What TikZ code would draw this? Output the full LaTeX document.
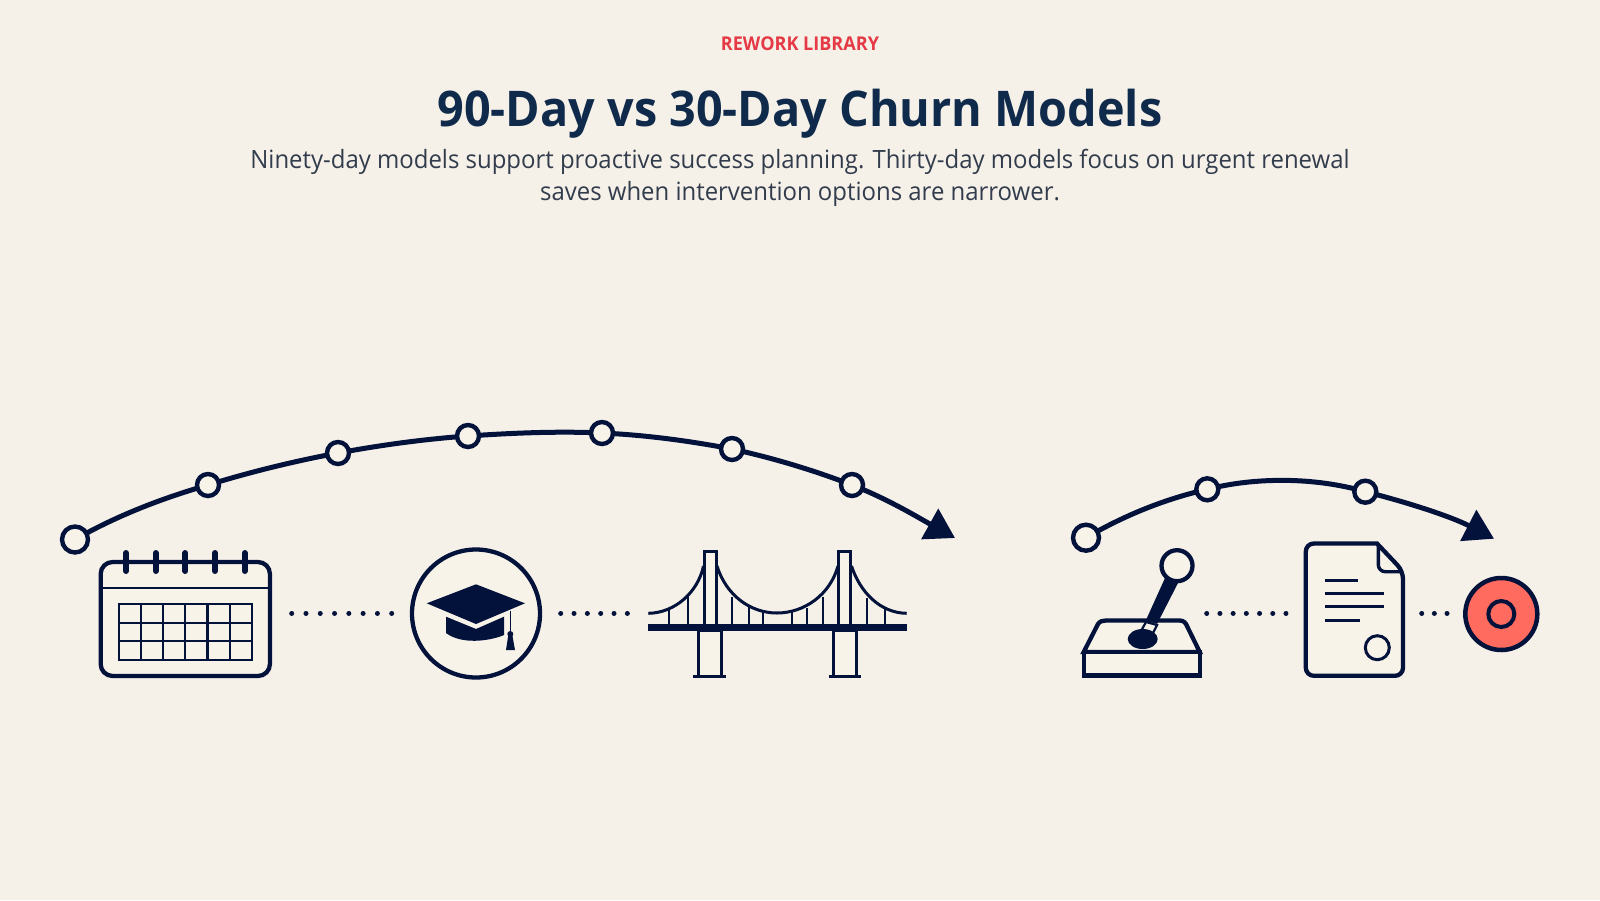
\documentclass[tikz,border=0pt]{standalone}
\usepackage{fontspec}
\setmainfont{Open Sans}
\usetikzlibrary{arrows.meta,backgrounds}
\definecolor{paper}{HTML}{F5F1E9}
\definecolor{cream}{HTML}{F8F3E9}
\definecolor{ink}{HTML}{03123A}
\definecolor{titleink}{HTML}{0F2A4A}
\definecolor{bodyink}{HTML}{323C4C}
\definecolor{kicker}{HTML}{E63946}
\definecolor{coral}{HTML}{FF6B5E}
\tikzset{
  x=1pt,y=-1pt,
  outline/.style={draw=ink,line width=4.3pt,fill=cream},
  waypoint/.style={circle,draw=ink,line width=4.4pt,fill=cream,minimum size=22pt,inner sep=0pt},
  startpoint/.style={waypoint,minimum size=26pt},
  route/.style={draw=ink,line width=5pt,-{Triangle[length=29pt,width=34pt,fill=ink]}},
  dotrow/.style={draw=ink,line width=5pt,line cap=round,dash pattern=on 0.01pt off #1},
  thin/.style={draw=ink,line width=2.2pt},
  headline/.style={transform shape,xscale=.95,align=center,text=bodyink}
}
\begin{document}
\begin{tikzpicture}
\useasboundingbox (0,0) rectangle (1600,900);
\begin{pgfonlayer}{background}
\fill[paper] (0,0) rectangle (1600,900);
\end{pgfonlayer}

% heading
\node[text=kicker,font=\fontsize{19}{22}\selectfont\bfseries,transform shape,xscale=.95] (kick) at (800,44) {REWORK LIBRARY};
\node[text=titleink,font=\fontsize{49.2}{56}\selectfont\bfseries,transform shape,xscale=.95] (title) at (800,113.5) {90-Day vs 30-Day Churn Models};
\node[headline,font=\fontsize{25.2}{32}\selectfont] (sub) at (800,177.5) {Ninety-day models support proactive success planning. Thirty-day models focus on urgent renewal\\saves when intervention options are narrower.};

% long route
\node[startpoint] (a0) at (75,539.5) {};
\node[waypoint] (a1) at (208,485) {};
\node[waypoint] (a2) at (338,453) {};
\node[waypoint] (a3) at (468,436) {};
\node[waypoint] (a4) at (602,433) {};
\node[waypoint] (a5) at (732,449) {};
\node[waypoint] (a6) at (852,485) {};
\coordinate (a7) at (955,538);
\begin{pgfonlayer}{background}
\draw[route] (a0.center) .. controls (118,515) and (163,498) .. (a1.center)
  .. controls (250,472) and (295,461) .. (a2.center)
  .. controls (381,445) and (425,439) .. (a3.center)
  .. controls (512,433) and (558,431) .. (a4.center)
  .. controls (646,435) and (690,441) .. (a5.center)
  .. controls (773,458) and (813,470) .. (a6.center)
  .. controls (888,499) and (920,518.5) .. (a7);
\end{pgfonlayer}

% short route
\node[startpoint] (b0) at (1086,537.7) {};
\node[waypoint] (b1) at (1207.3,489.3) {};
\node[waypoint] (b2) at (1365.3,491.7) {};
\coordinate (b3) at (1494,538.7);
\begin{pgfonlayer}{background}
\draw[route] (b0.center) .. controls (1125,515) and (1165,499) .. (b1.center)
  .. controls (1255,477) and (1315,477) .. (b2.center)
  .. controls (1410,503) and (1452,517) .. (b3);
\end{pgfonlayer}

% calendar
\node[outline,rounded corners=12pt,minimum width=169.3pt,minimum height=114pt,inner sep=0pt] (cal) at (185.3,619) {};
\draw[thin] (cal.west |- 0,588) -- (cal.east |- 0,588);
\foreach \x in {126,155.7,185.3,215,244.7}
  \draw[draw=ink,line width=6pt,line cap=round] (\x,553) -- (\x,571);
\draw[thin] (119,604) rectangle (251.7,660);
\foreach \x in {141.1,163.2,185.3,207.5,229.6}
  \draw[thin] (\x,604) -- (\x,660);
\foreach \y in {622.7,641.3}
  \draw[thin] (119,\y) -- (251.7,\y);

% graduation cap
\node[circle,outline,minimum size=128pt,inner sep=0pt] (capring) at (476,613.5) {};
\fill[ink] (476,584.3) -- (525,603.3) -- (476,624) -- (426.7,603.3) -- cycle;
\fill[ink] (446,616.7) -- (476,629) -- (504,616.7) -- (504,635) .. controls (490,641) and (462,645) .. (446,633) -- cycle;
\draw[draw=ink,line width=1.6pt] (510.3,610.7) -- (510.3,634);
\fill[ink] (510.3,634) circle (3);
\fill[ink] (508.3,635) -- (512.3,635) -- (515,650) -- (506,650) -- cycle;

% bridge
\coordinate (deckL) at (648.3,627.3);
\coordinate (deckR) at (906.7,627.3);
\draw[thin,line width=3pt,fill=cream] (698,630) rectangle (721.7,676);
\draw[thin,line width=3pt,fill=cream] (833,630) rectangle (856.7,676);
\draw[draw=ink,line width=3pt] (693,676) -- (726,676) (828.7,676) -- (860.7,676);
\foreach \x/\y in {669.3/608,687.7/596.7,732.3/596.7,749/607,763.3/611.7,791.7/611.7,806.7/608,822.7/596.7,867.3/598,885/609}
  \draw[thin,line width=1.8pt] (\x,\y) -- (\x,624);
\draw[draw=ink,line width=3pt] (648.3,613.3) .. controls (675,613) and (698,592) .. (703.5,566);
\draw[draw=ink,line width=3pt] (717,566) .. controls (726,595) and (750,613) .. (777,613) .. controls (804,613) and (830,595) .. (838,566);
\draw[draw=ink,line width=3pt] (851.5,566) .. controls (860,592) and (880,613) .. (906.7,613.3);
\draw[thin,line width=3pt,fill=cream] (704.5,551.5) rectangle (716.5,625);
\draw[thin,line width=3pt,fill=cream] (838.5,551.5) rectangle (850.8,625);
\draw[draw=ink,line width=6.7pt] (deckL) -- (deckR);

% joystick
\draw[outline] (1083.7,652) -- (1098,624) .. controls (1100,621) and (1103,620.5) .. (1106,620.5) -- (1178,620.5) .. controls (1182,620.5) and (1184,621) .. (1186,624) -- (1199.7,652) -- cycle;
\draw[outline] (1083.7,652) rectangle (1199.7,675.5);
\fill[ink] (1165,578) -- (1178,583) -- (1157,624) -- (1146,620) -- cycle;
\draw[thin,fill=cream] (1146,622) -- (1157,625) -- (1152,635) -- (1141,631) -- cycle;
\fill[ink] (1142.7,639) ellipse (15 and 10);
\node[circle,outline,minimum size=31pt,inner sep=0pt] (knob) at (1177,565.7) {};

% document
\draw[outline,rounded corners=8pt] (1377,543.5) -- (1305.8,543.5) -- (1305.8,675.8) -- (1403,675.8) -- (1403,571) [sharp corners] -- (1377,543.5) -- cycle;
\draw[draw=ink,line width=3.4pt,rounded corners=7pt] (1378.3,544) -- (1378.3,571.7) -- (1403,571.7);
\draw[draw=ink,line width=3.2pt] (1325,580.7) -- (1358.3,580.7);
\draw[draw=ink,line width=3.2pt] (1325,593.7) -- (1384.3,593.7);
\draw[draw=ink,line width=3.2pt] (1325,606.7) -- (1384.3,606.7);
\draw[draw=ink,line width=3.2pt] (1325,620.7) -- (1359.7,620.7);
\node[circle,draw=ink,line width=3pt,fill=cream,minimum size=24pt,inner sep=0pt] (seal) at (1377.3,647.7) {};

% target
\node[circle,draw=ink,line width=4.5pt,fill=coral,minimum size=72pt,inner sep=0pt] (goal) at (1501.3,614) {};
\node[circle,draw=ink,line width=4pt,fill=coral,minimum size=26pt,inner sep=0pt] (bull) at (1501.3,614) {};

% dotted links
\coordinate (d1a) at (291.7,613.3);
\coordinate (d1b) at (392,613.3);
\coordinate (d2a) at (560.7,613.3);
\coordinate (d2b) at (627.6,613.3);
\coordinate (d3a) at (1206.7,613.3);
\coordinate (d3b) at (1286.3,613.3);
\coordinate (d4a) at (1421.7,613.3);
\coordinate (d4b) at (1447.3,613.3);
\draw[dotrow=14.276pt] (d1a) -- (d1b);
\draw[dotrow=13.32pt] (d2a) -- (d2b);
\draw[dotrow=13.2pt] (d3a) -- (d3b);
\draw[dotrow=12.65pt] (d4a) -- (d4b);
\end{tikzpicture}
\end{document}
